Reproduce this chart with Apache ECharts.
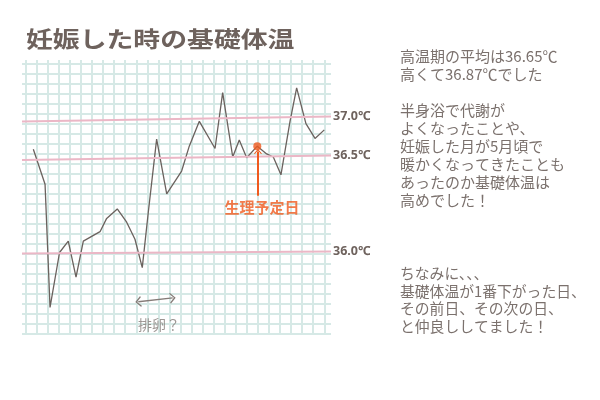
<!DOCTYPE html>
<html><head><meta charset="utf-8">
<script src="https://cdn.jsdelivr.net/npm/echarts@6/dist/echarts.min.js"></script>
<style>html,body{margin:0;padding:0;background:#fff}#c{width:600px;height:400px}</style>
</head><body><div id="c"></div>
<script>
// ---- data ----
const titleText = '妊娠した時の基礎体温';
// position of each reading along the sheet, in grid squares from the first vertical line
const xPos = [0.69,1.75,2.20,3.06,3.85,4.55,5.21,6.72,7.32,8.28,9.13,9.88,10.54,11.08,11.84,12.75,14.10,14.79,15.70,17.12,17.81,18.72,19.31,19.98,20.94,21.79,22.39,23.08,23.90,24.50,25.34,26.16,27.00];
// basal body temperature (℃)
const temps = [36.61,36.36,35.71,36.00,36.06,35.87,36.06,36.11,36.18,36.23,36.16,36.07,35.92,36.21,36.74,36.31,36.43,36.65,36.97,36.62,37.34,36.51,36.73,36.50,36.65,36.55,36.51,36.41,36.97,37.40,36.94,36.75,36.86];
const refTemps = [37.0, 36.5, 36.0];
const refLabels = ['37.0℃', '36.5℃', '36.0℃'];
const periodIndex = 24;           // reading marked 生理予定日
const periodLabel = '生理予定日';
const ovulationLabel = '排卵？';
const ovulationFrom = 10.18, ovulationTo = 13.29, ovulationTemp = 35.74;
const noteA = ['高温期の平均は36.65℃','高くて36.87℃でした','','半身浴で代謝が','よくなったことや、','妊娠した月が5月頃で','暖かくなってきたことも','あったのか基礎体温は','高めでした！'];
const noteB = ['ちなみに、、、','基礎体温が1番下がった日、','その前日、その次の日、','と仲良ししてました！'];

// ---- the hand-drawn sheet is not linear in temperature: anchor rows of the drawn lines ----
const ROW_360 = 8.08, ROW_365 = 17.55, ROW_370 = 21.43;
function row(t) {
  if (t <= 36.5) return ROW_365 - (36.5 - t) / 0.5 * (ROW_365 - ROW_360);
  return ROW_365 + (t - 36.5) / 0.5 * (ROW_370 - ROW_365);
}

const GRIDC = '#d6e9e6', PINK = '#ebb7c6', INK = '#6b625e', ORANGE = '#f05a1e', TXT = '#7b716d';
const chevron = 'path://M6,0 L12,9 L10.6,10 L6,3 L1.4,10 L0,9 Z';
const tilts = [0.25, 0.22, 0.09];

const chart = echarts.init(document.getElementById('c'), null, {renderer: 'canvas'});
const hidden = {axisLine:{show:false}, axisTick:{show:false}, axisLabel:{show:false}};
chart.setOption({
  animation: false,
  backgroundColor: '#fff',
  grid: [
    {left: 22, top: 63.3, width: 309, height: 270},
    {left: 25.7, top: 60, width: 298.6, height: 275}
  ],
  xAxis: [
    Object.assign({gridIndex: 0, type: 'value', min: 0, max: 1, splitLine:{show:false}}, hidden),
    Object.assign({gridIndex: 1, type: 'value', min: 0, max: 27, interval: 1,
      splitLine:{show:true, lineStyle:{color: GRIDC, width: 2}}}, hidden)
  ],
  yAxis: [
    Object.assign({gridIndex: 0, type: 'value', min: 0, max: 27, interval: 1,
      splitLine:{show:true, lineStyle:{color: GRIDC, width: 2}}}, hidden),
    Object.assign({gridIndex: 1, type: 'value', min: -0.17, max: 27.33, splitLine:{show:false}}, hidden)
  ],
  series: [
    {
      // reference temperature lines (drawn across the whole sheet)
      type: 'line', xAxisIndex: 0, yAxisIndex: 0, clip: false, z: 2, silent: true,
      symbol: 'none', data: [],
      markLine: {
        silent: true, symbol: ['none', 'none'],
        lineStyle: {color: PINK, width: 2, type: 'solid'},
        label: {show: true, position: 'end', distance: 2, formatter: '{b}',
          color: '#6e625d', fontWeight: 'bold', fontSize: 12.5, fontFamily: 'Noto Sans'},
        data: refTemps.map((t, i) => [
          {name: refLabels[i], coord: [0, row(t) - tilts[i]]},
          {coord: [1, row(t) + tilts[i]]}
        ])
      }
    },
    {
      type: 'line', xAxisIndex: 1, yAxisIndex: 1, clip: false, z: 3,
      symbol: 'none', silent: true,
      lineStyle: {color: INK, width: 1.3},
      data: xPos.map((x, i) => [x, row(temps[i])])
    },
    {
      type: 'scatter', xAxisIndex: 1, yAxisIndex: 1, clip: false, z: 5, silent: true,
      symbol: 'circle', symbolSize: 8, itemStyle: {color: ORANGE},
      data: [[xPos[periodIndex], row(temps[periodIndex])]],
      markLine: {
        silent: true, symbol: ['none', chevron], symbolSize: [8, 5],
        lineStyle: {color: ORANGE, width: 2, type: 'solid'},
        label: {show: false},
        data: [[{coord: [21.0, row(36.30)]}, {coord: [21.0, row(36.58)]}]]
      }
    },
    {
      type: 'scatter', xAxisIndex: 1, yAxisIndex: 1, clip: false, z: 5, silent: true,
      symbol: 'none', symbolSize: 0,
      data: [],
      markLine: {
        silent: true, symbol: [chevron, chevron], symbolSize: [11, 6],
        lineStyle: {color: '#857c78', width: 1.3, type: 'solid'},
        label: {show: false},
        data: [[{coord: [ovulationFrom, row(ovulationTemp)]}, {coord: [ovulationTo, row(ovulationTemp + 0.02)]}]]
      }
    },
    {
      type: 'scatter', xAxisIndex: 1, yAxisIndex: 1, clip: false, z: 6, silent: true,
      symbol: 'circle', symbolSize: 0.01,
      data: [
        {name: periodLabel, value: [21.37, row(36.24)],
          label: {show: true, position: 'inside', formatter: '{b}', color: ORANGE, fontWeight: 'bold', fontSize: 15, fontFamily: 'Noto Sans CJK JP'}},
        {name: ovulationLabel, value: [12.06, row(35.62)],
          label: {show: true, position: 'inside', formatter: '{b}', color: '#857c78', fontSize: 14, fontFamily: 'Noto Sans CJK JP'}}
      ]
    }
  ],
  graphic: [
    {type: 'text', x: 26, y: 39, scaleX: 1.22, silent: true,
      style: {text: titleText, fill: '#6e625d', font: 'bold 22px "Noto Sans CJK JP"', textAlign: 'left', textVerticalAlign: 'middle'}},
    {type: 'text', x: 400, y: 47.8, silent: true,
      style: {text: noteA.join('\n'), fill: TXT, font: '15px "Noto Sans CJK JP"', lineHeight: 17.9, textAlign: 'left', textVerticalAlign: 'top'}},
    {type: 'text', x: 400, y: 264.5, silent: true,
      style: {text: noteB.join('\n'), fill: TXT, font: '14.8px "Noto Sans CJK JP"', lineHeight: 17.6, textAlign: 'left', textVerticalAlign: 'top'}}
  ]
});
</script></body></html>
